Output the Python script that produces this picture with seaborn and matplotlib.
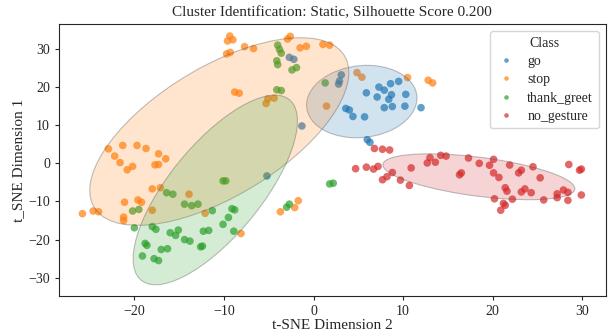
import numpy as np
import pandas as pd
import matplotlib
matplotlib.use("Agg")
import matplotlib.pyplot as plt
from matplotlib.patches import Ellipse
import seaborn as sns

classes = ["go", "stop", "thank_greet", "no_gesture"]

go_x = [-2.7, -2.2, -1.3, -5.2, 3.1, 2.9, 2.8, 7.3, 7.9, 8.6, 9.5, 5.9, 7.1, 8.7, 8.4, 10.3,
        3.6, 4.0, 4.4, 5.7, 7.9, 8.8, 10.2, 12.0, 6.0, 6.3]
go_y = [27.8, 27.3, 9.8, -3.3, 23.2, 21.6, 20.8, 20.0, 19.2, 20.9, 21.5, 18.5, 17.4, 18.0, 16.8, 18.1,
        14.4, 14.0, 12.3, 12.2, 14.6, 14.9, 15.0, 14.6, 6.2, 5.5]

stop_x = [-9.35, -9.6, -9.0, -9.7, -9.3, -7.7, -6.7, -2.9, -2.6, -1.5, -0.8, 1.05, 1.8, -8.8, -8.3,
          1.45, -5.3, -5.1, -4.4, 4.85, 5.4, 10.5, 12.8, 13.3,
          -22.9, -21.3, -19.7, -18.7, -22.2, -17.3, -21.6, -16.5, -20.2, -20.8, -17.7, -17.3,
          -18.0, -17.1, -21.1, -19.6, -19.2, -25.8, -24.6, -24.0, -21.2, -21.2, -18.0, -13.9,
          -12.1, -8.1, -3.7, -2.1, -1.7]
stop_y = [33.4, 32.1, 32.4, 28.7, 29.1, 30.6, 30.1, 32.6, 33.3, 30.3, 30.7, 31.2, 31.0, 18.7, 18.4,
          15.0, 15.7, 16.9, 17.1, 23.8, 22.6, 22.5, 21.8, 21.1,
          3.8, 4.7, 4.7, 3.9, 1.9, 2.5, 0.2, 1.2, -0.8, -1.7, -0.4, -0.3,
          -6.7, -6.4, -10.2, -9.6, -10.2, -13.2, -12.5, -12.7, -14.1, -15.0, -12.3, -8.1,
          -13.1, -18.4, -12.7, -11.6, -9.8]

thank_x = [-4.0, -3.8, -3.6, -4.1, -4.0, -2.4, -1.9, -4.1, -3.6, 1.3,
           -16.4, -15.7, -14.4, -13.6, -12.9, -20.2, -19.5, -20.0, -18.0, -17.6, -16.0, -15.4,
           -15.1, -14.4, -13.8, -12.3, -11.7, -11.3, -10.1, -9.8, -9.1, -8.8, -9.5, -10.1, -8.9,
           -18.8, -18.6, -17.0, -16.3, -19.1, -17.8, -17.3, -12.6, -12.4, -3.0, -2.7, 1.8, 2.2]
thank_y = [31.0, 29.9, 28.9, 26.9, 25.9, 24.5, 25.1, 19.3, 19.1, 21.1,
           -7.7, -8.1, -10.7, -11.1, -10.7, -12.5, -12.1, -16.9, -16.6, -17.3, -18.2, -18.9,
           -17.5, -20.0, -20.4, -17.8, -17.6, -12.4, -4.6, -4.6, -11.9, -12.2, -14.2, -16.0, -17.8,
           -21.0, -21.5, -22.6, -22.4, -24.3, -25.0, -25.5, -21.9, -21.7, -11.5, -10.7, -5.4, -5.2]

nog_x = [6.8, 7.7, 8.5, 4.7, 5.9, 6.7, 7.2, 8.8, 8.2, 7.7, 9.7, 10.7, 10.9, 12.7, 13.0, 13.6,
         14.2, 14.8, 17.3, 18.5, 19.65, 20.1, 21.9, 24.5, 23.2, 22.9, 20.1, 20.7, 16.5, 16.3,
         25.3, 28.5, 29.7, 29.9, 21.4, 21.6, 23.6, 23.2, 24.3, 20.2, 22.2, 21.2, 21.4, 20.9,
         25.7, 27.2, 27.2, 27.9, 28.4, 28.4, 29.9]
nog_y = [3.9, 3.7, 3.5, -1.4, -1.0, -1.5, -0.8, -2.4, -3.5, -4.3, -4.4, -5.8, -1.2, 0.1, 1.5, 0.3,
         2.1, 1.9, 1.4, 0.0, -0.5, 1.05, -0.45, -0.9, -1.8, -2.5, -2.5, -3.7, -2.5, -3.0,
         -3.8, -0.3, -1.8, -1.5, -6.4, -7.3, -6.7, -7.5, -7.7, -9.3, -9.4, -10.5, -11.0, -12.3,
         -9.6, -8.0, -9.0, -7.0, -7.6, -9.7, -8.3]

df = pd.DataFrame({
    "x": go_x + stop_x + thank_x + nog_x,
    "y": go_y + stop_y + thank_y + nog_y,
    "Class": (["go"] * len(go_x) + ["stop"] * len(stop_x)
              + ["thank_greet"] * len(thank_x) + ["no_gesture"] * len(nog_x)),
})

sns.set_style("ticks")
plt.rcParams["font.family"] = ["Liberation Serif", "DejaVu Serif"]

fig, ax = plt.subplots(figsize=(6.16, 3.36), dpi=100)
fig.subplots_adjust(left=0.096, right=0.983, bottom=0.119, top=0.928)

palette = sns.color_palette("tab10", 4)
sns.scatterplot(data=df, x="x", y="y", hue="Class", hue_order=classes, palette=palette,
                s=30, alpha=0.7, edgecolor="none", ax=ax)

n_std = np.sqrt(2.0)
for cls, col in zip(classes, palette):
    sub = df[df["Class"] == cls]
    cov = np.cov(sub["x"], sub["y"])
    vals, vecs = np.linalg.eigh(cov)
    order = vals.argsort()[::-1]
    vals, vecs = vals[order], vecs[:, order]
    angle = np.degrees(np.arctan2(vecs[1, 0], vecs[0, 0]))
    w, h = 2 * n_std * np.sqrt(vals)
    e = Ellipse((sub["x"].mean(), sub["y"].mean()), w, h, angle=angle,
                facecolor=(*col, 0.2), edgecolor=(0.3, 0.3, 0.3, 0.35), lw=0.8)
    ax.add_patch(e)

ax.set_xlim(-28.4, 32.6)
ax.set_ylim(-34.8, 36.5)
ax.set_xticks([-20, -10, 0, 10, 20, 30])
ax.set_yticks([-30, -20, -10, 0, 10, 20, 30])
ax.tick_params(labelsize=10, length=3, width=0.8)
ax.set_title("Cluster Identification: Static, Silhouette Score 0.200", fontsize=11)
ax.set_xlabel("t-SNE Dimension 2", fontsize=11, labelpad=1)
ax.set_ylabel("t_SNE Dimension 1", fontsize=11, labelpad=2)
for sp in ax.spines.values():
    sp.set_linewidth(0.8)

leg = ax.legend(title="Class", loc="upper right", fontsize=10, title_fontsize=10,
                frameon=True, markerscale=0.6, labelspacing=0.38, handletextpad=0.8,
                handlelength=1.5)
leg.get_frame().set_edgecolor("#cccccc")

fig.savefig("out.png", dpi=100)
